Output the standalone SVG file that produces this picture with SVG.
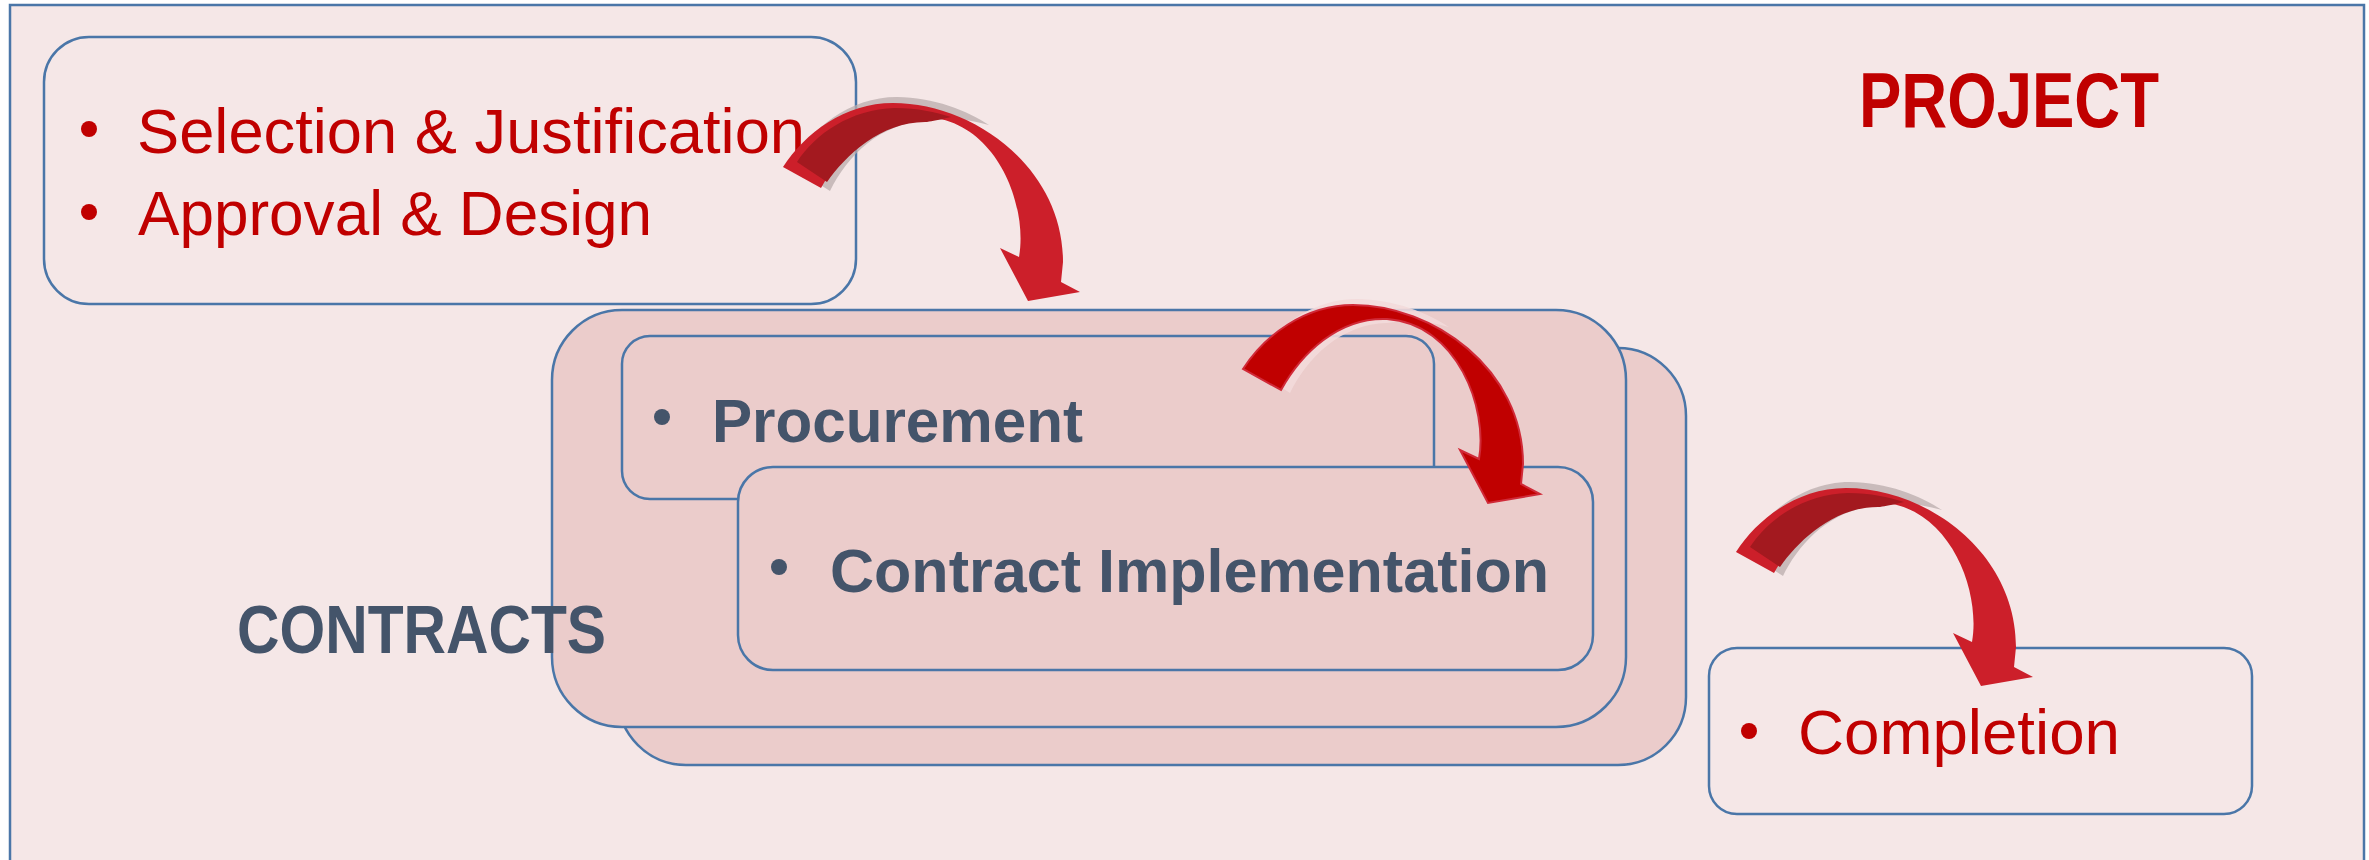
<svg xmlns="http://www.w3.org/2000/svg" xmlns:xlink="http://www.w3.org/1999/xlink" width="2369" height="860" viewBox="0 0 2369 860">
<style>
.box{stroke:#4a76a8;stroke-width:2.5}
.pale{fill:#f5e7e7}
.rose{fill:#ebcccb}
.red{font-family:"Liberation Sans",Arial,sans-serif;font-size:63px;fill:#c00000}
.slate{font-family:"Liberation Sans",Arial,sans-serif;font-weight:bold;font-size:61px;fill:#44546a}
.title{font-family:"Liberation Sans",Arial,sans-serif;font-weight:bold}
.arrowA{fill:#cc1f2a}
.arrowDark{fill:#a3191f}
.shadowA{fill:#b9acac;opacity:0.75}
.arrowB{fill:#c00000;stroke:#d02a38;stroke-width:2}
.shadowB{fill:#f3dada;opacity:0.9}
</style>
<defs>
<path id="arrowShape" d="M0,0 C22,-34 62,-64 110,-64 C190,-64 280,0 280,95 L278,115 L297,125 L245,134 L217,81 L236,90 C245,40 215,-45 144,-50 C95,-52 58,-15 38,21 Z"/>
<path id="shadowShape" d="M6,-2 C28,-38 66,-70 114,-70 C150,-70 185,-56 206,-42 C185,-48 165,-50 144,-46 C98,-45 64,-11 47,24 Z"/>
<path id="darkShape" d="M14,-5 C32,-33 68,-58 112,-59 C135,-59 152,-55 168,-50 C155,-47 150,-46 144,-45 C99,-46 63,-12 44,15 Z"/>
</defs>

<rect id="project-frame" class="box pale" x="10" y="5" width="2354" height="880" stroke-width="3"/>

<g id="project-title">
<text class="title" x="1859" y="127" font-size="77" fill="#c00000" textLength="300" lengthAdjust="spacingAndGlyphs">PROJECT</text>
</g>

<g id="node-selection">
<rect class="box pale" x="44" y="37" width="812" height="267" rx="45" ry="45"/>
<circle cx="89" cy="129" r="8" fill="#c00000"/>
<text class="red" x="137" y="153" textLength="668" lengthAdjust="spacingAndGlyphs">Selection &amp; Justification</text>
<circle cx="89" cy="212" r="8" fill="#c00000"/>
<text class="red" x="138" y="235" textLength="514" lengthAdjust="spacingAndGlyphs">Approval &amp; Design</text>
</g>

<g id="node-contracts">
<rect class="box rose" x="618" y="348" width="1068" height="417" rx="68" ry="68"/>
<rect class="box rose" x="552" y="310" width="1074" height="417" rx="70" ry="70"/>
<text class="title" x="237" y="653" font-size="68" fill="#44546a" textLength="369" lengthAdjust="spacingAndGlyphs">CONTRACTS</text>
</g>

<g id="node-procurement">
<rect class="box rose" x="622" y="336" width="812" height="163" rx="28" ry="28"/>
<circle cx="662" cy="417" r="8" fill="#44546a"/>
<text class="slate" x="712" y="442" textLength="371" lengthAdjust="spacingAndGlyphs">Procurement</text>
</g>

<g id="node-implementation">
<rect class="box rose" x="738" y="467" width="855" height="203" rx="35" ry="35"/>
<circle cx="779" cy="567" r="8" fill="#44546a"/>
<text class="slate" x="830" y="592" textLength="719" lengthAdjust="spacingAndGlyphs">Contract Implementation</text>
</g>

<g id="node-completion">
<rect class="box pale" x="1709" y="648" width="543" height="166" rx="28" ry="28"/>
<circle cx="1749" cy="731" r="8" fill="#c00000"/>
<text class="red" x="1798" y="754" textLength="322" lengthAdjust="spacingAndGlyphs">Completion</text>
</g>

<g id="connectors">
<g transform="translate(783,167)">
<use xlink:href="#shadowShape" class="shadowA"/>
<use xlink:href="#arrowShape" class="arrowA"/>
<use xlink:href="#darkShape" class="arrowDark"/>
</g>
<g transform="translate(1243,369)">
<use xlink:href="#shadowShape" class="shadowB"/>
<use xlink:href="#arrowShape" class="arrowB"/>
</g>
<g transform="translate(1736,552)">
<use xlink:href="#shadowShape" class="shadowA"/>
<use xlink:href="#arrowShape" class="arrowA"/>
<use xlink:href="#darkShape" class="arrowDark"/>
</g>
</g>
</svg>
